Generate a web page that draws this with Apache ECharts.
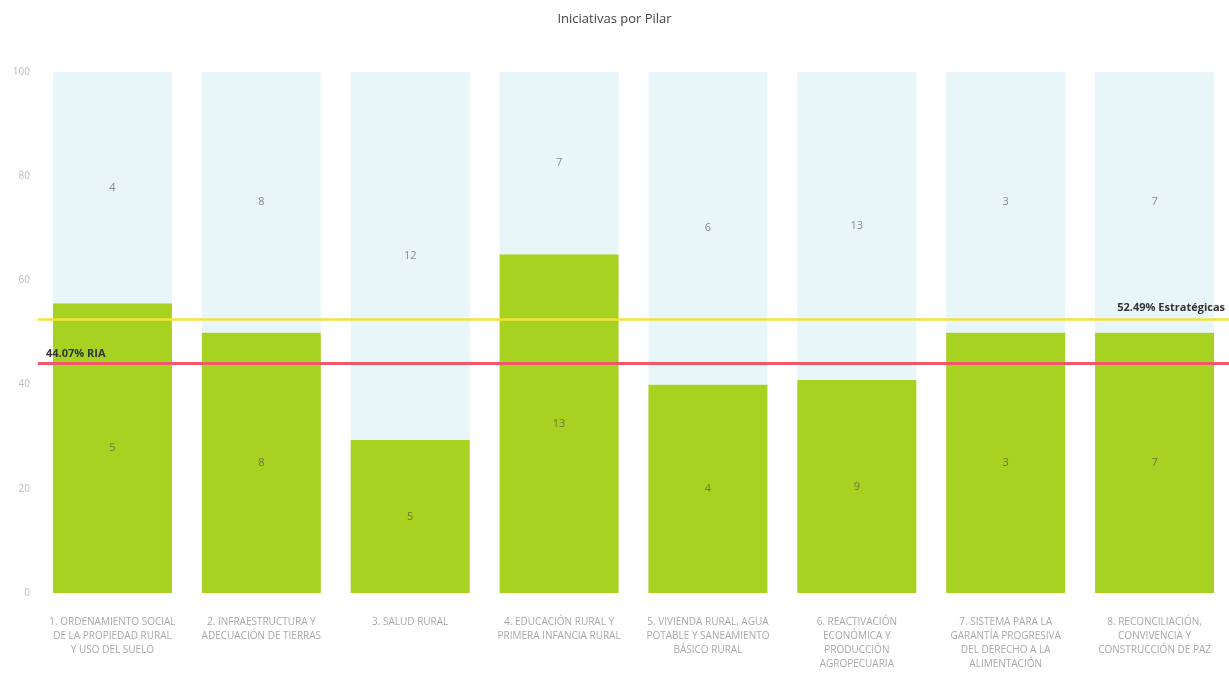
<!DOCTYPE html>
<html>
<head>
<meta charset="utf-8">
<script src="https://cdn.jsdelivr.net/npm/echarts@6/dist/echarts.min.js"></script>
<style>html,body{margin:0;padding:0;background:#fff}#c{width:1229px;height:698px}</style>
</head>
<body>
<div id="c"></div>
<script>
const categories = [
  "1. ORDENAMIENTO SOCIAL\nDE LA PROPIEDAD RURAL\nY USO DEL SUELO",
  "2. INFRAESTRUCTURA Y\nADECUACIÓN DE TIERRAS",
  "3. SALUD RURAL",
  "4. EDUCACIÓN RURAL Y\nPRIMERA INFANCIA RURAL",
  "5. VIVIENDA RURAL, AGUA\nPOTABLE Y SANEAMIENTO\nBÁSICO RURAL",
  "6. REACTIVACIÓN\nECONÓMICA Y\nPRODUCCIÓN\nAGROPECUARIA",
  "7. SISTEMA PARA LA\nGARANTÍA PROGRESIVA\nDEL DERECHO A LA\nALIMENTACIÓN",
  "8. RECONCILIACIÓN,\nCONVIVENCIA Y\nCONSTRUCCIÓN DE PAZ"
];
// counts shown as labels
const greenCounts = [5, 8, 5, 13, 4, 9, 3, 7];
const blueCounts  = [4, 8, 12, 7, 6, 13, 3, 7];
// bar shares (%)
const greenShare = [55.6, 50, 29.4, 65, 40, 40.9, 50, 50];
const blueShare  = [44.4, 50, 70.6, 35, 60, 59.1, 50, 50];
const yTicks = [0, 20, 40, 60, 80, 100];
const riaLine = 44.07;
const estrategicasLine = 52.49;

const chart = echarts.init(document.getElementById('c'));
chart.setOption({
  animation: false,
  backgroundColor: '#fff',
  title: {
    text: 'Iniciativas por Pilar',
    left: 'center', top: 8,
    textStyle: { fontFamily: 'Open Sans', fontSize: 13, fontWeight: 'normal', color: '#444' }
  },
  grid: { left: 38, right: 0, top: 72, bottom: 105 },
  xAxis: {
    type: 'category',
    data: categories,
    axisLine: { show: false },
    axisTick: { show: false },
    axisLabel: {
      interval: 0, margin: 22, lineHeight: 14,
      fontFamily: 'Open Sans', fontSize: 10, color: '#a8a8a8'
    }
  },
  yAxis: {
    type: 'value', min: 0, max: 100, interval: 20,
    splitLine: { show: false },
    axisLine: { show: false },
    axisTick: { show: false },
    axisLabel: {
      fontFamily: 'Open Sans', fontSize: 10, color: '#bbbbbb',
      formatter: v => yTicks.includes(v) ? String(v) : ''
    }
  },
  series: [
    {
      type: 'bar', stack: 'a', barWidth: 119,
      data: greenShare,
      itemStyle: { color: '#a7d222' },
      label: {
        show: true, position: 'inside', fontFamily: 'Open Sans', fontSize: 11, color: '#6b7a3a',
        formatter: p => String(greenCounts[p.dataIndex])
      },
      markLine: {
        symbol: 'none', silent: true,
        data: [
          { yAxis: riaLine, lineStyle: { color: '#ef5a6a', width: 3, type: 'solid' },
            label: { show: true, position: 'insideStartTop', formatter: riaLine.toFixed(2) + '% RIA',
                     fontFamily: 'Open Sans', fontSize: 11, fontWeight: 'bold', color: '#333', distance: [8, 4] } },
          { yAxis: estrategicasLine, lineStyle: { color: '#f2e33a', width: 2.5, type: 'solid' },
            label: { show: true, position: 'insideEndTop', formatter: estrategicasLine.toFixed(2) + '% Estratégicas',
                     fontFamily: 'Open Sans', fontSize: 11, fontWeight: 'bold', color: '#333', distance: [4, 6] } }
        ]
      }
    },
    {
      type: 'bar', stack: 'a', barWidth: 119,
      data: blueShare,
      itemStyle: { color: '#e8f6f9' },
      label: {
        show: true, position: 'inside', fontFamily: 'Open Sans', fontSize: 11, color: '#8a8a8a',
        formatter: p => String(blueCounts[p.dataIndex])
      }
    }
  ]
});
</script>
</body>
</html>
